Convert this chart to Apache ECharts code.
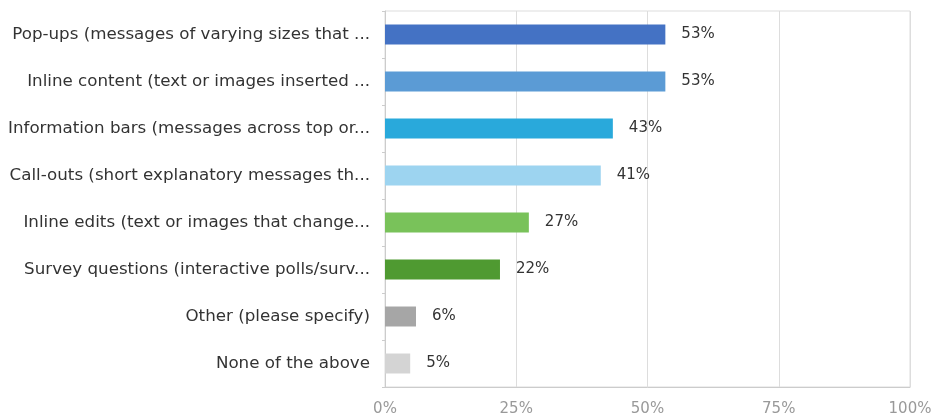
<!DOCTYPE html>
<html>
<head>
<meta charset="utf-8">
<style>html,body{margin:0;padding:0;background:#fff;}#c{width:935px;height:418px;}</style>
<script src="https://cdn.jsdelivr.net/npm/echarts@6/dist/echarts.min.js"></script>
</head>
<body>
<div id="c"></div>
<script>
var categories = [
  "Pop-ups (messages of varying sizes that ...",
  "Inline content (text or images inserted ...",
  "Information bars (messages across top or...",
  "Call-outs (short explanatory messages th...",
  "Inline edits (text or images that change...",
  "Survey questions (interactive polls/surv...",
  "Other (please specify)",
  "None of the above"
];
var values = [53.4, 53.4, 43.4, 41.1, 27.4, 21.9, 5.9, 4.8];
var barColors = ["#4472C4", "#5B9BD5", "#29A9DB", "#9DD4F0", "#79C25A", "#4F9A31", "#A6A6A6", "#D4D4D4"];
var xTicks = [0, 25, 50, 75, 100];

var FONT = 'DejaVu Sans, Liberation Sans, Arial, sans-serif';
var chart = echarts.init(document.getElementById('c'), null, {renderer: 'canvas'});
chart.setOption({
  animation: false,
  backgroundColor: '#ffffff',
  textStyle: {fontFamily: FONT},
  grid: {left: 385, right: 25, top: 11, bottom: 31, show: true, borderColor: '#dddddd', borderWidth: 1},
  xAxis: {
    type: 'value', min: xTicks[0], max: xTicks[xTicks.length - 1], interval: 25,
    axisLine: {show: true, lineStyle: {color: '#cccccc'}},
    axisTick: {show: false},
    splitLine: {show: true, lineStyle: {color: '#dddddd'}},
    axisLabel: {formatter: '{value}%', color: '#999999', fontSize: 15, margin: 15, fontFamily: FONT}
  },
  yAxis: {
    type: 'category', inverse: true, data: categories,
    axisLine: {show: true, lineStyle: {color: '#cccccc'}},
    axisTick: {show: true, length: 3, lineStyle: {color: '#cccccc'}},
    axisLabel: {color: '#333333', fontSize: 16.7, margin: 15, fontFamily: FONT}
  },
  series: [{
    type: 'bar',
    barWidth: 20,
    data: values.map(function (v, i) { return {value: v, itemStyle: {color: barColors[i]}}; }),
    label: {
      show: true, position: 'right', distance: 16, color: '#333333', fontSize: 15,
      fontFamily: FONT,
      formatter: function (p) { return Math.round(p.value) + '%'; }
    }
  }]
});
</script>
</body>
</html>
